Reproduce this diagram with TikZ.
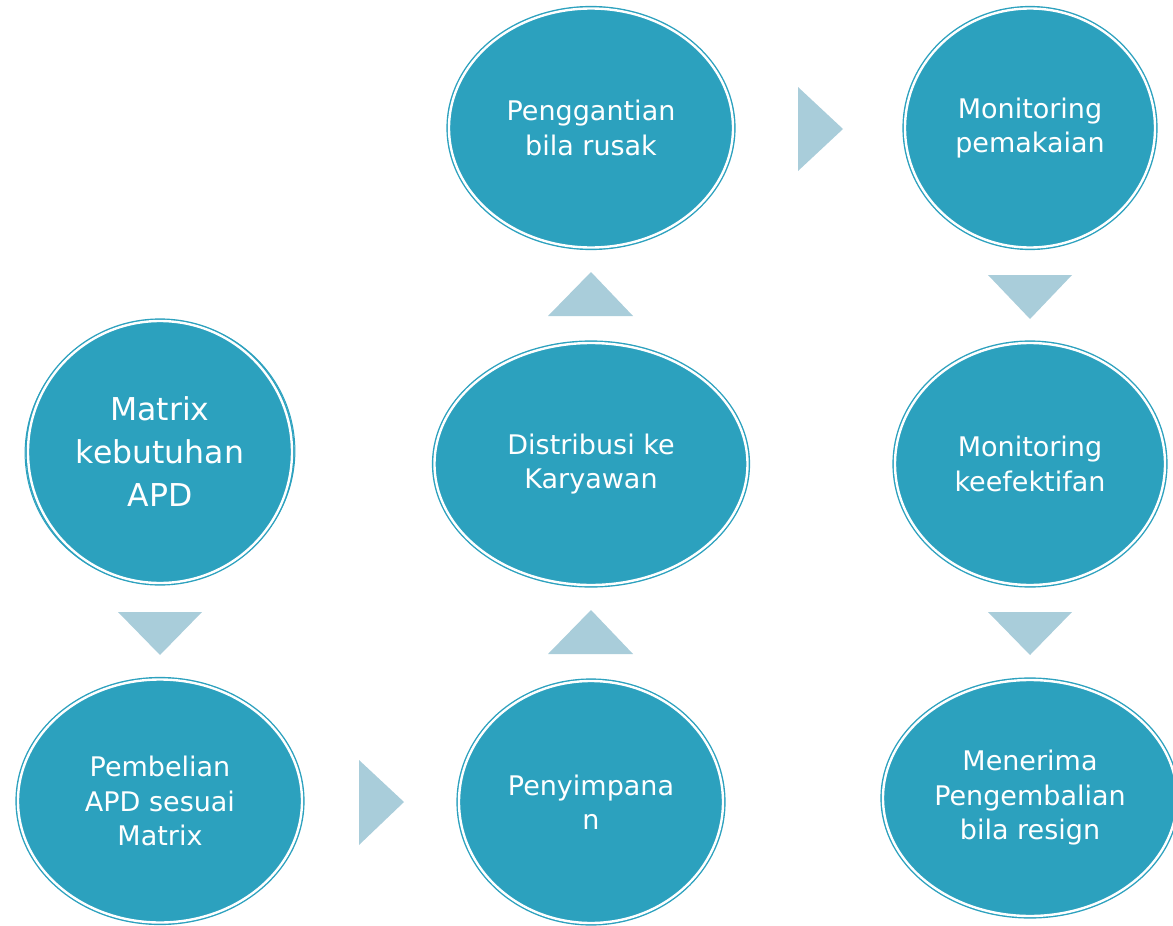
\documentclass[tikz,border=0pt]{standalone}
\usepackage{fontspec}
\setmainfont{DejaVu Sans}
\usetikzlibrary{shapes.geometric}
\definecolor{teal1}{HTML}{2CA1BE}
\definecolor{tri1}{HTML}{A9CDDA}
\tikzset{
  bub/.style={ellipse, fill=teal1, draw=teal1, line width=1.4pt, double=white, double distance=2.4pt,
    text=white, align=center, inner sep=0pt, font=\fontsize{27}{34.5}\selectfont},
  tri/.style={fill=tri1, draw=none}
}
\begin{document}
\begin{tikzpicture}[x=1pt,y=-1pt]
\useasboundingbox (0,0) rectangle (1173,926);
% nodes
\draw[teal1, line width=1pt, rotate around={12:(160,452)}] (160,452) ellipse (135 and 132);
\node[bub, minimum width=264, minimum height=262, font=\fontsize{31.5}{43}\selectfont] (m) at (160,452) {Matrix\\kebutuhan\\APD};
\node[bub, minimum width=284, minimum height=243] (p) at (160,801) {Pembelian\\APD sesuai\\Matrix};
\node[bub, minimum width=264, minimum height=242] (s) at (591,802) {Penyimpana\\n};
\node[bub, minimum width=313, minimum height=242] (d) at (591,464) {Distribusi ke\\Karyawan};
\node[bub, minimum width=284, minimum height=239] (g) at (591,128) {Penggantian\\bila rusak};
\node[bub, minimum width=250, minimum height=239] (mp) at (1030,128) {Monitoring\\pemakaian};
\node[bub, minimum width=270, minimum height=242] (mk) at (1030,464) {Monitoring\\keefektifan};
\node[bub, minimum width=294, minimum height=236] (r) at (1030,798) {Menerima\\Pengembalian\\bila resign};
% arrows (triangles)
\fill[tri] (118,612) -- (202,612) -- (160,655) -- cycle;
\fill[tri] (359,760) -- (404,802) -- (359,845) -- cycle;
\fill[tri] (548,654) -- (633,654) -- (591,610) -- cycle;
\fill[tri] (548,316) -- (633,316) -- (591,272) -- cycle;
\fill[tri] (798,87) -- (843,129) -- (798,171) -- cycle;
\fill[tri] (988,275) -- (1072,275) -- (1030,319) -- cycle;
\fill[tri] (988,612) -- (1072,612) -- (1030,655) -- cycle;
\end{tikzpicture}
\end{document}
